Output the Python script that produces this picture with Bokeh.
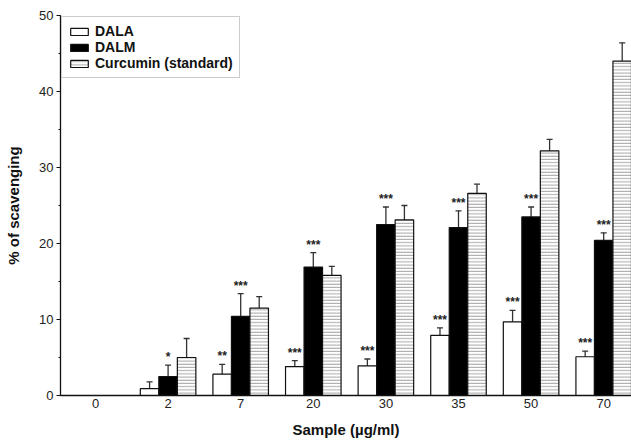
from bokeh.plotting import figure
from bokeh.models import (ColumnDataSource, Range1d, FixedTicker, SingleIntervalTicker,
                          Whisker, TeeHead, Legend, LegendItem)
from bokeh.embed import file_html
from bokeh.resources import INLINE

categories = ["0", "2", "7", "20", "30", "35", "50", "70"]
dala = [0, 0.9, 2.8, 3.8, 3.9, 7.9, 9.7, 5.1]
dala_err = [0, 0.9, 1.3, 0.8, 0.9, 1.0, 1.5, 0.75]
dalm = [0, 2.5, 10.4, 16.9, 22.5, 22.1, 23.5, 20.4]
dalm_err = [0, 1.5, 3.0, 1.9, 2.3, 2.2, 1.3, 1.0]
curc = [0, 5.0, 11.5, 15.8, 23.1, 26.6, 32.2, 44.0]
curc_err = [0, 2.5, 1.5, 1.2, 1.9, 1.2, 1.5, 2.4]
sig_dala = ["", "", "**", "***", "***", "***", "***", "***"]
sig_dalm = ["", "*", "***", "***", "***", "***", "***", "***"]

FONT = "Liberation Sans"
W = 0.255
idx = list(range(len(categories)))

p = figure(width=631, height=441, output_backend="svg", toolbar_location=None,
           x_range=Range1d(-0.482, 7.383), y_range=Range1d(0, 50),
           min_border_left=60, min_border_right=0, min_border_top=15, min_border_bottom=46)
p.outline_line_color = None
p.xgrid.visible = False
p.ygrid.visible = False
p.background_fill_color = "white"

series = [
    ("DALA", dala, dala_err, -W, dict(fill_color="white")),
    ("DALM", dalm, dalm_err, 0.0, dict(fill_color="black")),
    ("Curcumin (standard)", curc, curc_err, W,
     dict(fill_color="white", hatch_pattern="horizontal_line", hatch_scale=3.2,
          hatch_color="#8a8a8a", hatch_weight=0.8)),
]

items = []
for name, vals, errs, off, style in series:
    xs = [i + off for i in idx]
    src = ColumnDataSource(dict(x=xs, top=vals))
    r = p.vbar(x="x", top="top", bottom=0, width=W, source=src,
               line_color="#111111", line_width=1.2, **style)
    items.append(LegendItem(label=name, renderers=[r]))
    ex = [x for x, e in zip(xs, errs) if e > 0]
    up = [v + e for v, e in zip(vals, errs) if e > 0]
    lo = [v - e for v, e in zip(vals, errs) if e > 0]
    esrc = ColumnDataSource(dict(base=ex, upper=up, lower=lo))
    wk = Whisker(base="base", upper="upper", lower="lower", source=esrc,
                 line_color="#333333", line_width=1.3,
                 upper_head=TeeHead(size=6, line_color="#333333", line_width=1.3),
                 lower_head=TeeHead(size=6, line_color="#333333", line_width=1.3))
    p.add_layout(wk)

for vals, errs, sigs, off in [(dala, dala_err, sig_dala, -W), (dalm, dalm_err, sig_dalm, 0.0)]:
    sx = [i + off for i, s in zip(idx, sigs) if s]
    sy = [v + e for v, e, s in zip(vals, errs, sigs) if s]
    st = [s for s in sigs if s]
    ssrc = ColumnDataSource(dict(x=sx, y=sy, t=st))
    p.text(x="x", y="y", text="t", source=ssrc, text_align="center", text_baseline="bottom",
           y_offset=-1, text_font_size="12px", text_font_style="bold", text_color="#222222",
           text_font={"value": FONT})

legend = Legend(items=items, location="top_left", margin=1,
                label_text_font=FONT, label_text_font_style="bold", label_text_font_size="14px",
                label_text_color="#111111", glyph_width=22, glyph_height=9, label_standoff=5,
                label_height=16, spacing=0, padding=6,
                border_line_color="#999999", border_line_width=1, background_fill_alpha=1)
p.add_layout(legend)

p.xaxis.ticker = FixedTicker(ticks=idx)
p.xaxis.major_label_overrides = {i: c for i, c in zip(idx, categories)}
p.xaxis.major_tick_out = 0
p.xaxis.major_tick_in = 0
p.xaxis.minor_tick_out = 0
p.xaxis.axis_label = "Sample (\u00b5g/ml)"

p.yaxis.ticker = SingleIntervalTicker(interval=10, num_minor_ticks=2)
p.yaxis.major_tick_out = 4
p.yaxis.major_tick_in = 0
p.yaxis.minor_tick_out = 2
p.yaxis.minor_tick_in = 0
p.yaxis.axis_label = "% of scavenging"

for ax in (p.xaxis[0], p.yaxis[0]):
    ax.axis_line_color = "#111111"
    ax.axis_line_width = 1.3
    ax.major_tick_line_color = "#111111"
    ax.minor_tick_line_color = "#111111"
    ax.major_label_text_font = FONT
    ax.major_label_text_font_size = "13px"
    ax.major_label_text_color = "#222222"
    ax.axis_label_text_font = FONT
    ax.axis_label_text_font_size = "15px"
    ax.axis_label_text_font_style = "bold"
    ax.axis_label_text_color = "#111111"
p.xaxis.major_label_standoff = 3
p.xaxis.axis_label_standoff = 10
p.yaxis.major_label_standoff = 3
p.yaxis.axis_label_standoff = 14

open("out.html", "w").write(file_html(p, INLINE))
